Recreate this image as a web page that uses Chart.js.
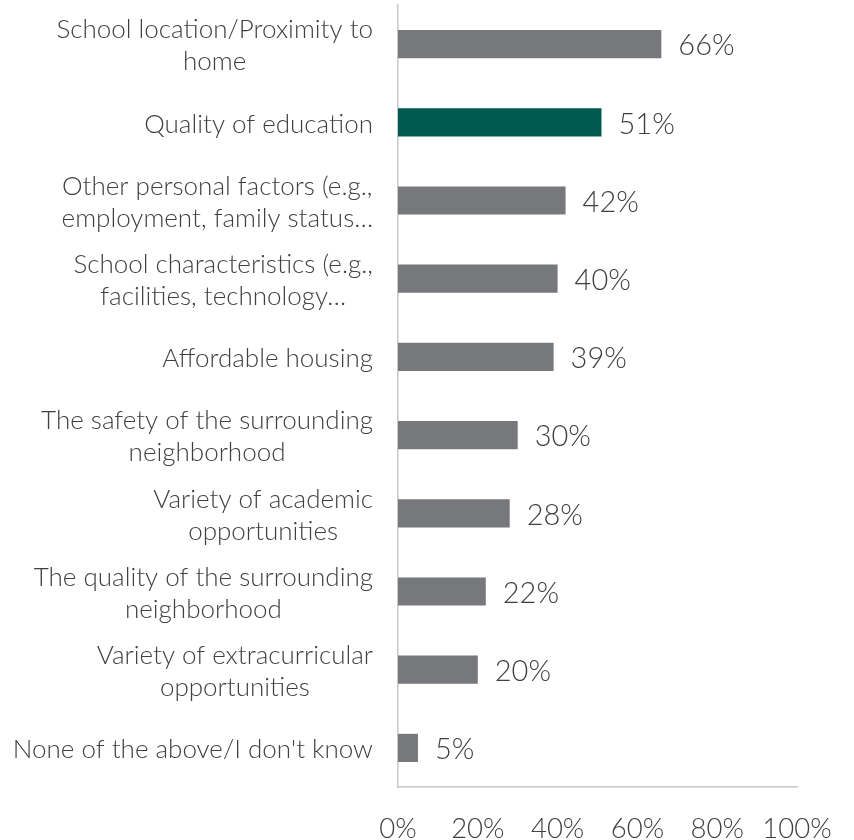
<!DOCTYPE html>
<html>
<head>
<meta charset="utf-8">
<script src="https://cdn.jsdelivr.net/npm/chart.js@4.4.1/dist/chart.umd.min.js"></script>
<style>
  html, body { margin: 0; padding: 0; background: #fff; }
  #wrap { width: 854px; height: 840px; }
</style>
</head>
<body>
<div id="wrap"><canvas id="myChart"></canvas></div>
<script>
const categories = [
    ['School location/Proximity to', 'home'],
    'Quality of education',
    ['Other personal factors (e.g.,', 'employment, family status\u2026'],
    ['School characteristics (e.g.,', 'facilities, technology\u2026'],
    'Affordable housing',
    ['The safety of the surrounding', 'neighborhood'],
    ['Variety of academic', 'opportunities'],
    ['The quality of the surrounding', 'neighborhood'],
    ['Variety of extracurricular', 'opportunities'],
    "None of the above/I don't know"
];
const values = [66, 51, 42, 40, 39, 30, 28, 22, 20, 5];
const xTicks = [0, 20, 40, 60, 80, 100];

const grey = '#77787b';
const green = '#005a4e';
const barColors = values.map((v, i) => i === 1 ? green : grey);

// % labels at the end of each bar
const valueLabels = {
    id: 'valueLabels',
    afterDatasetsDraw(chart) {
        const ctx = chart.ctx;
        const meta = chart.getDatasetMeta(0);
        ctx.save();
        ctx.font = '300 29px Lato';
        ctx.fillStyle = '#404040';
        ctx.textAlign = 'left';
        ctx.textBaseline = 'middle';
        meta.data.forEach((bar, i) => {
            ctx.fillText(values[i] + '%', bar.x + 17, bar.y + 2);
        });
        ctx.restore();
    }
};

// category labels: block right aligned, lines centred inside the block
const categoryLabels = {
    id: 'categoryLabels',
    afterDraw(chart) {
        const ctx = chart.ctx;
        const yScale = chart.scales.y;
        const right = yScale.right - 25;
        const lineH = 32;
        ctx.save();
        ctx.font = '300 26px Lato';
        ctx.fillStyle = '#404040';
        ctx.textAlign = 'center';
        ctx.textBaseline = 'middle';
        categories.forEach((lab, i) => {
            const lines = Array.isArray(lab) ? lab : [lab];
            const widest = Math.max(...lines.map(l => ctx.measureText(l).width));
            const cx = right - widest / 2;
            const cy = yScale.getPixelForTick(i) + 2;
            lines.forEach((l, j) => {
                ctx.fillText(l, cx, cy + (j - (lines.length - 1) / 2) * lineH);
            });
        });
        ctx.restore();
    }
};

const ctx = document.querySelector('#myChart').getContext('2d');
const myChart = new Chart(ctx, {
    type: 'bar',
    data: {
        labels: categories,
        datasets: [{
            data: values,
            backgroundColor: barColors,
            borderWidth: 0,
            barPercentage: 0.36,
            categoryPercentage: 1
        }]
    },
    plugins: [valueLabels, categoryLabels],
    options: {
        indexAxis: 'y',
        responsive: true,
        maintainAspectRatio: false,
        animation: false,
        layout: {
            padding: { top: 5, right: 57, bottom: 0, left: 0 }
        },
        plugins: {
            legend: { display: false },
            tooltip: { enabled: false }
        },
        scales: {
            x: {
                min: 0,
                max: 100,
                afterBuildTicks(axis) {
                    axis.ticks = xTicks.map(v => ({ value: v }));
                },
                afterFit(axis) { axis.height = 53; },
                grid: { display: false },
                border: { display: true, color: '#c8c8c8', width: 1.5 },
                ticks: {
                    padding: 18,
                    maxRotation: 0,
                    color: '#404040',
                    font: { family: 'Lato', weight: 300, size: 27.5 },
                    callback: v => v + '%'
                }
            },
            y: {
                afterFit(axis) {
                    axis.width = 398;
                    axis.paddingTop = 0;
                    axis.paddingBottom = 0;
                },
                grid: { display: false },
                border: { display: true, color: '#c8c8c8', width: 1.5 },
                ticks: { display: false }
            }
        }
    }
});
</script>
</body>
</html>
